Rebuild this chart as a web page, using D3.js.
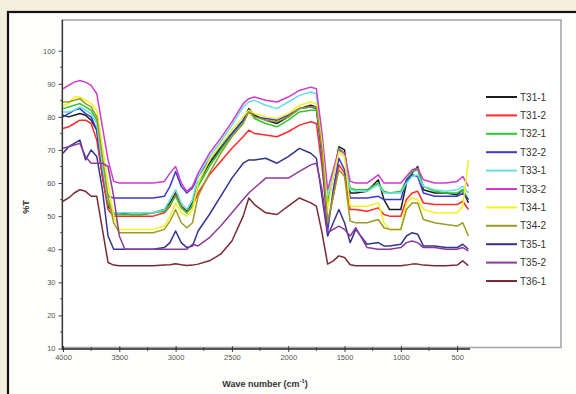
<!DOCTYPE html>
<html>
<head>
<meta charset="utf-8">
<script src="https://cdn.jsdelivr.net/npm/d3@7"></script>
<style>
  html, body { margin: 0; padding: 0; background: #f4eedc; }
  svg { display: block; }
</style>
</head>
<body>
<svg id="chart" width="576" height="394"></svg>
<script>
// wave numbers (cm-1) shared by every spectrum
const waveNumbers = [4000, 3950, 3900, 3850, 3800, 3750, 3700, 3650, 3600, 3550,
  3500, 3450, 3400, 3300, 3200, 3100, 3050, 3000, 2950, 2900,
  2850, 2800, 2700, 2600, 2500, 2400, 2350, 2300, 2200, 2100,
  2000, 1900, 1800, 1750, 1700, 1650, 1600, 1550, 1500, 1450,
  1400, 1300, 1200, 1150, 1100, 1000, 950, 900, 850, 800,
  700, 600, 500, 450, 400];

const seriesNames = ['T31-1', 'T31-2', 'T32-1', 'T32-2', 'T33-1', 'T33-2',
  'T34-1', 'T34-2', 'T35-1', 'T35-2', 'T36-1'];
const seriesColors = ['#1e1e1e', '#ff2a2a', '#2ec82e', '#3a3ad0', '#66dede', '#d03ad0',
  '#f2f21e', '#9a9a24', '#34348e', '#8e3a9a', '#7a2a32'];

const t31_1 = [80.5, 80, 80.5, 81, 80.5, 79, 76, 62, 53, 51,
  51, 50.8, 50.5, 50.5, 51, 52, 54, 57, 53, 51.5,
  54, 60, 66, 70.5, 75, 79, 82.5, 80.5, 79, 78,
  80, 82.5, 83.5, 83, 70, 54, 62, 71, 70, 57,
  57, 57.5, 61, 55, 52, 52, 60, 63, 65, 58,
  57, 57, 56.5, 58, 54];
const t31_2 = [76.5, 77, 78, 79, 79, 78, 73, 62, 52, 50,
  50, 50, 50, 50, 50, 51, 53, 56.5, 53, 51,
  53, 57, 62.5, 66.5, 70.5, 74, 76, 75, 74.5, 74,
  75.5, 77.5, 78.5, 78, 65, 48, 56, 65.5, 63, 52,
  52, 51.5, 52.5, 50.5, 50, 50, 55, 57, 57.5, 54,
  53.5, 53.5, 53.5, 54.5, 52];
const t32_1 = [82.5, 83, 83.5, 84, 83, 82, 79, 66, 54, 50.5,
  50.5, 50.5, 50.5, 50.5, 51, 51.5, 53.5, 56, 52.5, 51,
  53.5, 59, 65, 70, 74.5, 78.5, 82, 79.5, 78, 77,
  79, 81.5, 82, 82, 70, 54, 62, 70.5, 69, 58.5,
  58, 58, 60, 57.5, 57, 57.5, 61, 63.5, 64, 59,
  57.5, 57, 57, 58, 55];
const t32_2 = [80, 81, 82, 82.5, 81, 80, 76, 64, 56, 55.5,
  55.5, 55.5, 55.5, 55.5, 55.5, 56, 59, 63.5, 59, 57,
  58.5, 62, 67, 71, 75, 79, 82, 80, 79.5, 79,
  80.5, 82.5, 83, 82.5, 68, 45.5, 58, 67.5, 64, 55.5,
  55.5, 55.5, 56, 55, 55, 55, 61, 62.5, 62, 57,
  56, 56, 56, 57, 55];
const t33_1 = [81.5, 81.5, 82, 83, 82, 81, 78, 65, 55, 51,
  51, 51, 51, 51, 51, 52, 55, 58, 54, 52,
  55, 62, 68, 72.5, 77.5, 83, 84.5, 85, 83.5, 82.5,
  84.5, 86.5, 87.5, 87, 73, 56, 62, 69.5, 68, 58,
  57.5, 57.5, 59.5, 57, 57, 57, 60, 62, 62.5, 59,
  58, 57.5, 58, 59, 57];
const t33_2 = [88.5, 89.5, 90.5, 91, 90.5, 89.5, 87, 77, 67, 60.5,
  60, 60, 60, 60, 60, 60.5, 63, 65, 60, 57.5,
  59, 63, 69, 73.5, 78.5, 84, 85.5, 86, 85, 84.5,
  86, 88, 89, 88.5, 75, 58, 64, 70, 69, 60.5,
  60, 60, 62.5, 60, 60, 60, 62, 64, 64.5, 61,
  60, 60, 60.5, 62, 59];
const t34_1 = [83.5, 84, 86, 86, 85, 84, 82, 71, 60, 50,
  46, 46, 46, 46, 46, 47, 50, 54, 51, 50,
  52, 60, 67, 71.5, 76, 80, 82, 81, 80, 79.5,
  81, 83.5, 84.5, 84, 72, 52, 62, 69.5, 68, 53,
  53, 53, 54, 48, 46, 46, 54, 55.5, 55, 52,
  51, 51, 51, 53, 67];
const t34_2 = [84.5, 84.5, 85, 85.5, 84, 83, 80, 68, 56, 48,
  45, 45, 45, 45, 45, 46, 48.5, 52, 48, 46.5,
  48, 56, 63, 69, 74, 78, 81.5, 80, 79, 78.5,
  80, 82.5, 83, 83, 70, 48, 56, 64, 62, 48.5,
  48, 48, 49, 46.5, 46, 46, 52, 54, 54, 49,
  48, 47.5, 47, 48, 44];
const t35_1 = [69, 71, 72, 73, 67, 70, 68, 58, 44, 40,
  40, 40, 40, 40, 40, 40.5, 42, 45.5, 42, 40.5,
  41, 45.5, 50.5, 56, 61.5, 66, 67, 67, 67.5, 66,
  68, 70.5, 69, 67.5, 56, 44, 48, 52, 48, 42,
  46, 41.5, 42, 41, 41, 41.5, 44, 45, 44.5, 41,
  41, 40.5, 40.5, 41.5, 40];
const t35_2 = [70.5, 71, 71.5, 72, 68, 66, 66, 66, 65, 56,
  44, 40, 40, 40, 40, 40, 40, 40, 40, 40,
  41.5, 41, 43.5, 47, 51, 55, 57, 58.5, 61.5, 61.5,
  61.5, 63.5, 65.5, 66, 58, 45, 46, 47, 46, 44,
  46.5, 40.5, 40, 40, 40, 40.5, 42, 42.5, 42, 40.5,
  40.5, 40, 40, 40.5, 39.5];
const t36_1 = [54.5, 55.5, 57, 58, 57.5, 56, 56, 46, 36, 35.2,
  35, 35, 35, 35, 35, 35.2, 35.3, 35.6, 35.3, 35.1,
  35.2, 35.5, 36.5, 38.5, 42.5, 50, 55.5, 53.5, 51, 50.5,
  53, 55.5, 54, 53, 45, 35.5, 36.5, 38, 37.5, 35.3,
  35, 35, 35, 35, 35, 35, 35.2, 35.5, 35.5, 35.2,
  35, 35, 35.2, 36.5, 35];

const seriesValues = [t31_1, t31_2, t32_1, t32_2, t33_1, t33_2, t34_1, t34_2, t35_1, t35_2, t36_1];

const xMajorTicks = [4000, 3500, 3000, 2500, 2000, 1500, 1000, 500];
const yMajorTicks = [10, 20, 30, 40, 50, 60, 70, 80, 90, 100];

const svg = d3.select('#chart');

// outer frame of the scanned figure
svg.append('rect').attr('x', 8).attr('y', 12).attr('width', 600).attr('height', 400)
  .attr('fill', '#fefefc').attr('stroke', '#111').attr('stroke-width', 2.2);

// gray plot box
svg.append('rect').attr('x', 62).attr('y', 20).attr('width', 499).attr('height', 327.5)
  .attr('fill', '#ffffff').attr('stroke', '#a8a8a8').attr('stroke-width', 1.6);

const x = d3.scaleLinear().domain([4000, 400]).range([63, 468.4]);
const y = d3.scaleLinear().domain([10, 100]).range([348.5, 50.7]);

// y axis
const yAxis = svg.append('g').attr('transform', 'translate(62.5,0)')
  .call(d3.axisLeft(y).tickValues(yMajorTicks).tickSize(4).tickPadding(3));
yAxis.select('.domain').remove();
yAxis.selectAll('line').attr('stroke', '#444');
yAxis.selectAll('text').attr('font-family', 'Liberation Sans, Arial, sans-serif')
  .attr('font-size', 7.5).attr('fill', '#555');
svg.append('g').selectAll('line')
  .data(d3.range(15, 100, 10))
  .join('line')
  .attr('x1', 60).attr('x2', 62.5)
  .attr('y1', d => y(d)).attr('y2', d => y(d))
  .attr('stroke', '#555');
svg.append('line').attr('x1', 62.5).attr('x2', 62.5).attr('y1', 20).attr('y2', 349.5)
  .attr('stroke', '#333').attr('stroke-width', 1.2);

// x axis
const xAxis = svg.append('g').attr('transform', 'translate(0,349)')
  .call(d3.axisBottom(x).tickValues(xMajorTicks).tickSize(3).tickPadding(3).tickFormat(d3.format('d')));
xAxis.select('.domain').remove();
xAxis.selectAll('line').attr('stroke', '#444').attr('y1', -3);
xAxis.selectAll('text').attr('font-family', 'Liberation Sans, Arial, sans-serif')
  .attr('font-size', 7.5).attr('fill', '#555');
svg.append('g').selectAll('line')
  .data(d3.range(3750, 400, -500))
  .join('line')
  .attr('x1', d => x(d)).attr('x2', d => x(d))
  .attr('y1', 347).attr('y2', 351)
  .attr('stroke', '#666');
svg.append('line').attr('x1', 62).attr('x2', 470).attr('y1', 349).attr('y2', 349)
  .attr('stroke', '#222').attr('stroke-width', 1.4);

// spectra
const line = d3.line()
  .x((d, i) => x(waveNumbers[i]))
  .y(d => y(d));

svg.append('g').selectAll('path')
  .data(seriesValues)
  .join('path')
  .attr('d', d => line(d))
  .attr('fill', 'none')
  .attr('stroke', (d, i) => seriesColors[i])
  .attr('stroke-width', 1.5)
  .attr('stroke-linejoin', 'round');

// legend
const legend = svg.append('g').selectAll('g')
  .data(seriesNames)
  .join('g')
  .attr('transform', (d, i) => `translate(0,${97 + i * 18.4})`);
legend.append('line')
  .attr('x1', 486).attr('x2', 517)
  .attr('stroke', (d, i) => seriesColors[i])
  .attr('stroke-width', 2);
legend.append('text')
  .attr('x', 520).attr('dy', '0.35em')
  .attr('font-family', 'Liberation Sans, Arial, sans-serif')
  .attr('font-size', 10)
  .attr('fill', '#333')
  .text(d => d);

// axis titles
const xt = svg.append('text')
  .attr('x', 265).attr('y', 387)
  .attr('text-anchor', 'middle')
  .attr('font-family', 'Liberation Sans, Arial, sans-serif')
  .attr('font-size', 9).attr('font-weight', 'bold').attr('fill', '#333');
xt.append('tspan').text('Wave number (cm');
xt.append('tspan').attr('font-size', 6).attr('dy', -4).text('-1');
xt.append('tspan').attr('dy', 4).text(')');

svg.append('text')
  .attr('transform', 'translate(29,207) rotate(-90)')
  .attr('text-anchor', 'middle')
  .attr('font-family', 'Liberation Sans, Arial, sans-serif')
  .attr('font-size', 9).attr('font-weight', 'bold').attr('fill', '#333')
  .text('%T');
</script>
</body>
</html>
